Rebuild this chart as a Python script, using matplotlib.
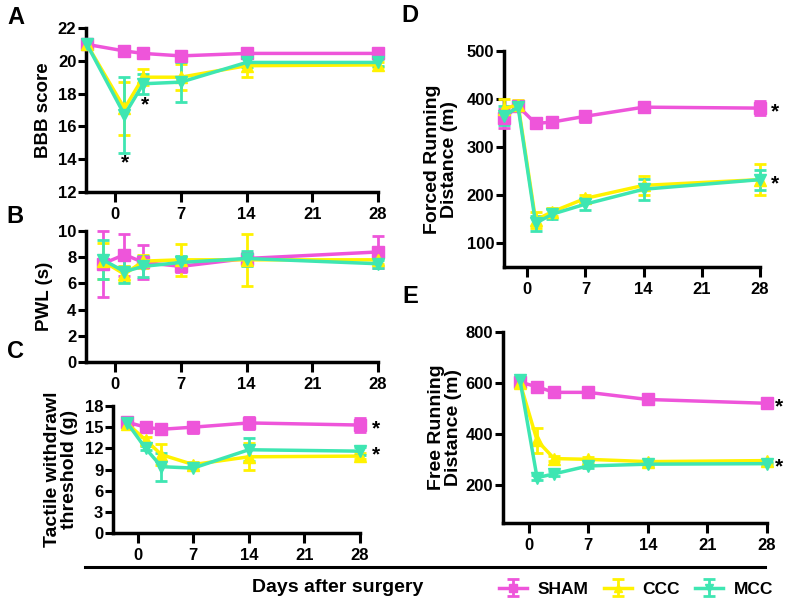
import matplotlib
matplotlib.use("Agg")
import matplotlib.pyplot as plt
from matplotlib.lines import Line2D

plt.rcParams['font.family'] = ['Liberation Sans', 'DejaVu Sans']
plt.rcParams['font.weight'] = 'bold'

groups = ["SHAM", "CCC", "MCC"]
colors = {"SHAM": "#EE55DA", "CCC": "#FFF200", "MCC": "#3EE6B2"}
markers = {"SHAM": "s", "CCC": "^", "MCC": "v"}
x_ticks = [0, 7, 14, 21, 28]

# Panel A: BBB score
a_days = [-3, 1, 3, 7, 14, 28]
a_sham = [21.0, 20.6, 20.45, 20.3, 20.45, 20.45]
a_sham_err = [0.1, 0.15, 0.15, 0.15, 0.15, 0.2]
a_ccc = [21.0, 17.1, 19.0, 19.0, 19.7, 19.75]
a_ccc_err = [0.1, 1.6, 0.5, 0.8, 0.7, 0.15]
a_mcc = [21.0, 16.7, 18.6, 18.7, 19.9, 19.9]
a_mcc_err = [0.1, 2.3, 0.6, 1.2, 0.3, 0.2]

# Panel B: PWL (s)
b_days = [-1.3, 1, 3, 7, 14, 28]
b_sham = [7.5, 8.2, 7.6, 7.3, 7.9, 8.4]
b_sham_err = [2.5, 1.6, 1.3, 0.4, 0.4, 1.2]
b_ccc = [7.7, 6.7, 7.7, 7.8, 7.8, 7.8]
b_ccc_err = [1.4, 0.6, 0.5, 1.2, 2.0, 0.3]
b_mcc = [7.8, 6.9, 7.3, 7.6, 7.9, 7.5]
b_mcc_err = [1.5, 0.9, 0.8, 0.5, 0.6, 0.3]

# Panel C: tactile withdrawal threshold (g)
c_days = [-1.3, 1, 3, 7, 14, 28]
c_sham = [15.7, 15.0, 14.7, 15.0, 15.6, 15.3]
c_sham_err = [0.3, 0.4, 0.7, 0.8, 0.8, 1.0]
c_ccc = [15.5, 13.2, 11.1, 9.7, 10.8, 10.9]
c_ccc_err = [0.5, 0.4, 1.5, 0.3, 1.9, 0.45]
c_mcc = [15.6, 12.0, 9.4, 9.2, 11.8, 11.6]
c_mcc_err = [0.3, 0.3, 2.0, 0.3, 1.6, 0.55]

# Panel D: forced running distance (m)
d_days = [-2.8, -1.1, 1, 3, 7, 14, 28]
d_sham = [360, 385, 349, 352, 364, 383, 381]
d_sham_err = [20, 8, 8, 6, 12, 6, 15]
d_ccc = [380, 388, 148, 165, 193, 220, 232]
d_ccc_err = [20, 9, 17, 8, 8, 20, 32]
d_mcc = [365, 383, 141, 160, 181, 212, 232]
d_mcc_err = [20, 6, 16, 11, 13, 22, 21]

# Panel E: free running distance (m)
e_days = [-1, 1, 3, 7, 14, 28]
e_sham = [603, 585, 563, 563, 535, 520]
e_sham_err = [8, 10, 10, 10, 15, 15]
e_ccc = [600, 374, 303, 300, 291, 295]
e_ccc_err = [10, 50, 10, 8, 6, 8]
e_mcc = [610, 228, 243, 274, 281, 283]
e_mcc_err = [8, 10, 10, 8, 6, 6]

W, H = 790, 604
fig = plt.figure(figsize=(W / 100, H / 100), dpi=100)


def rect(l, r, t, b):
    return [l / W, 1 - b / H, (r - l) / W, (b - t) / H]


def style(ax, xlim, ylim, yticks):
    ax.set_xlim(*xlim)
    ax.set_ylim(*ylim)
    ax.set_xticks(x_ticks)
    ax.set_yticks(yticks)
    for s in ["top", "right"]:
        ax.spines[s].set_visible(False)
    for s in ["left", "bottom"]:
        ax.spines[s].set_linewidth(2.5)
    ax.tick_params(axis="x", width=2.2, length=7, labelsize=12, pad=4)
    ax.tick_params(axis="y", width=2.2, length=6, labelsize=12, pad=1)
    for lab in ax.get_xticklabels() + ax.get_yticklabels():
        lab.set_fontweight("bold")
    ax.patch.set_alpha(0)


def plot_series(ax, days, data):
    handles = []
    for g in groups:
        vals, errs = data[g]
        h = ax.errorbar(days, vals, yerr=errs, color=colors[g], marker=markers[g],
                        markersize=8, lw=2.5, elinewidth=2, capsize=4.5, capthick=2,
                        clip_on=False, label=g, zorder=3)
        handles.append(h)
    return handles


LABEL_FS = 14

axA = fig.add_axes(rect(86, 378, 28, 192))
handles = plot_series(axA, a_days, {"SHAM": (a_sham, a_sham_err), "CCC": (a_ccc, a_ccc_err),
                                   "MCC": (a_mcc, a_mcc_err)})
style(axA, (-3.1, 28), (12, 22), [12, 14, 16, 18, 20, 22])
axA.set_ylabel("BBB score", fontsize=13.5, fontweight="bold")
axA.yaxis.set_label_coords(-0.116, 0.5)
axA.text(1, 13.8, "*", fontsize=15, ha="center", va="center")
axA.text(3.2, 17.3, "*", fontsize=15, ha="center", va="center")

axB = fig.add_axes(rect(86, 378, 231, 362))
plot_series(axB, b_days, {"SHAM": (b_sham, b_sham_err), "CCC": (b_ccc, b_ccc_err),
                          "MCC": (b_mcc, b_mcc_err)})
style(axB, (-3.1, 28), (0, 10), [0, 2, 4, 6, 8, 10])
axB.set_ylabel("PWL (s)", fontsize=13.5, fontweight="bold")
axB.yaxis.set_label_coords(-0.113, 0.5)

axC = fig.add_axes(rect(113, 360, 406, 533))
plot_series(axC, c_days, {"SHAM": (c_sham, c_sham_err), "CCC": (c_ccc, c_ccc_err),
                          "MCC": (c_mcc, c_mcc_err)})
style(axC, (-3.1, 28), (0, 18), [0, 3, 6, 9, 12, 15, 18])
axC.set_ylabel("Tactile withdrawl\nthreshold (g)", fontsize=LABEL_FS, fontweight="bold",
               linespacing=1.0)
axC.yaxis.set_label_coords(-0.142, 0.5)
axC.text(30, 14.8, "*", fontsize=15, ha="center", va="center", clip_on=False)
axC.text(30, 11.1, "*", fontsize=15, ha="center", va="center", clip_on=False)

axD = fig.add_axes(rect(504, 760, 51, 267))
plot_series(axD, d_days, {"SHAM": (d_sham, d_sham_err), "CCC": (d_ccc, d_ccc_err),
                          "MCC": (d_mcc, d_mcc_err)})
style(axD, (-2.8, 28), (50, 500), [100, 200, 300, 400, 500])
axD.set_ylabel("Forced Running\nDistance (m)", fontsize=LABEL_FS, fontweight="bold",
               linespacing=1.0)
axD.yaxis.set_label_coords(-0.18, 0.5)
axD.text(29.8, 373, "*", fontsize=15, ha="center", va="center", clip_on=False)
axD.text(29.8, 224, "*", fontsize=15, ha="center", va="center", clip_on=False)

axE = fig.add_axes(rect(503, 767, 332, 523))
plot_series(axE, e_days, {"SHAM": (e_sham, e_sham_err), "CCC": (e_ccc, e_ccc_err),
                          "MCC": (e_mcc, e_mcc_err)})
style(axE, (-3.0, 28), (50, 800), [200, 400, 600, 800])
axE.set_ylabel("Free Running\nDistance (m)", fontsize=LABEL_FS, fontweight="bold",
               linespacing=1.0)
axE.yaxis.set_label_coords(-0.155, 0.5)
axE.text(29.4, 505, "*", fontsize=15, ha="center", va="center", clip_on=False)
axE.text(29.4, 272, "*", fontsize=15, ha="center", va="center", clip_on=False)

# panel letters
for lab, (px, py) in {"A": (16, 18), "B": (15, 216), "C": (15, 352),
                      "D": (410, 16), "E": (410, 296)}.items():
    fig.text(px / W, 1 - py / H, lab, fontsize=17, fontweight="bold",
             ha="center", va="center")

# shared x caption and separator line
fig.add_artist(Line2D([85 / W, 765 / W], [1 - 567 / H, 1 - 567 / H],
                      transform=fig.transFigure, color="black", lw=2.2))
fig.text(252 / W, 1 - 587 / H, "Days after surgery", fontsize=14,
         fontweight="bold", ha="left", va="center")

fig.legend(handles=handles, labels=groups, loc="center",
           bbox_to_anchor=(636 / W, 1 - 589 / H), ncol=3, frameon=False,
           handlelength=1.6, handletextpad=0.6, columnspacing=0.9, markerscale=0.75,
           prop={"size": 12.5, "weight": "bold"})

fig.savefig("out.png", dpi=100)
